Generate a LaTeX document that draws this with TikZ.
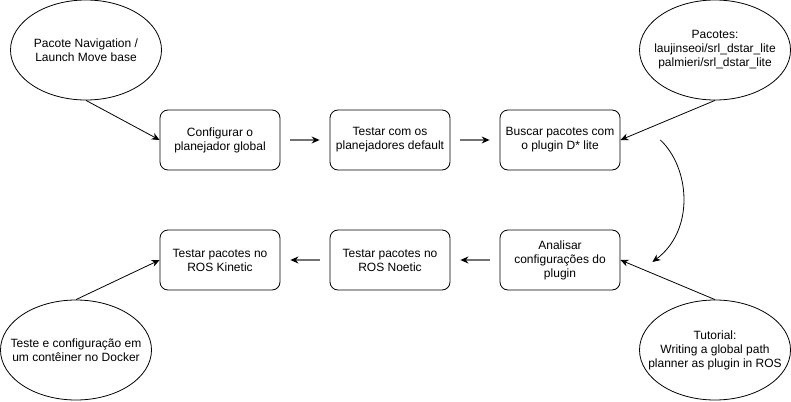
\documentclass[tikz,border=0pt]{standalone}
\usepackage{fontspec}
\setmainfont{Liberation Sans}
\usetikzlibrary{shapes.geometric,arrows.meta}
\begin{document}
\begin{tikzpicture}[x=1pt,y=-1pt,
  box/.style={draw, line width=0.8pt, rounded corners=8pt, minimum width=120pt, minimum height=60pt, inner sep=0pt, align=center, font=\fontsize{12}{14}\selectfont},
  oval/.style={draw, line width=0.8pt, ellipse, minimum width=151pt, minimum height=100pt, inner sep=0pt},
  ovaltext/.style={align=center, font=\fontsize{12}{14}\selectfont, inner sep=0pt},
  link/.style={line width=0.8pt, -{Stealth[length=8pt,width=7pt]}},
  flow/.style={line width=1.2pt, draw=black!55, -{Stealth[length=8pt,width=7pt,black]}}]
\useasboundingbox (0,0) rectangle (791,401);
\node[box] (c1) at (220,140) {Configurar o\\planejador global};
\node[box] (c2) at (390,140) {Testar com os\\planejadores default};
\node[box] (c3) at (560,140) {Buscar pacotes com\\o plugin D* lite};
\node[box] (d3) at (560,260) {Analisar\\configurações do\\plugin};
\node[box] (d2) at (390,260) {Testar pacotes no\\ROS Noetic};
\node[box] (d1) at (220,260) {Testar pacotes no\\ROS Kinetic};
\node[oval, label={[ovaltext]center:{Pacote Navigation /\\Launch Move base}}] (e1) at (86,50) {};
\node[oval, label={[ovaltext]center:{Pacotes:\\laujinseoi/srl\_dstar\_lite\\palmieri/srl\_dstar\_lite}}] (e2) at (715,50) {};
\node[oval, label={[ovaltext]center:{Teste e configuração em\\um contêiner no Docker}}] (e3) at (76,350) {};
\node[oval, label={[ovaltext]center:{Tutorial:\\Writing a global path\\planner as plugin in ROS}}] (e4) at (715,350) {};
\draw[link] (e1.south) -- (c1.west);
\draw[link] (e2.south) -- (c3.east);
\draw[link] (e3.north) -- (d1.west);
\draw[link] (e4.north) -- (d3.east);
\draw[flow] ([xshift=10pt]c1.east) -- ([xshift=-10pt]c2.west);
\draw[flow] ([xshift=10pt]c2.east) -- ([xshift=-10pt]c3.west);
\draw[flow] ([xshift=-10pt]d3.west) -- ([xshift=10pt]d2.east);
\draw[flow] ([xshift=-10pt]d2.west) -- ([xshift=10pt]d1.east);
\coordinate (cs) at ([xshift=40pt]c3.east);
\coordinate (ce) at ([xshift=32pt,yshift=-2pt]d3.east);
\draw[link] (cs) .. controls (690,168) and (695,230) .. (ce);
\end{tikzpicture}
\end{document}
